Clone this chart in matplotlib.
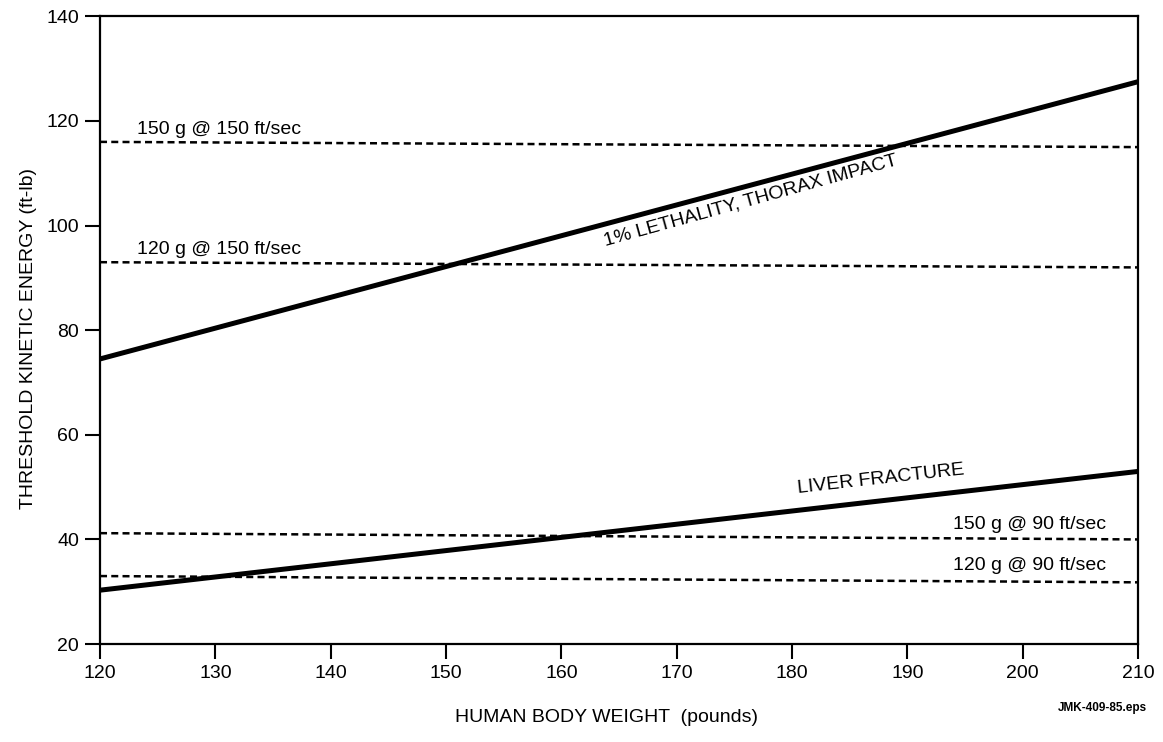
import matplotlib
matplotlib.use("Agg")
import matplotlib.pyplot as plt

plt.rcParams['font.family'] = ['Liberation Sans', 'DejaVu Sans']

# body weight (pounds) at the two ends of each line
weight = [120, 210]

# threshold kinetic energy (ft-lb)
lethality_thorax = [74.5, 127.5]
liver_fracture = [30.3, 53.0]

# projectile energies (at both ends)
ke_150g_150fps = [116.0, 115.0]
ke_120g_150fps = [93.0, 92.0]
ke_150g_90fps = [41.2, 40.0]
ke_120g_90fps = [33.0, 31.8]

x_ticks = [120, 130, 140, 150, 160, 170, 180, 190, 200, 210]
y_ticks = [20, 40, 60, 80, 100, 120, 140]

fig = plt.figure(figsize=(11.63, 7.42), dpi=100)
ax = fig.add_axes([0.086, 0.132, 0.8925, 0.846])

# dashed energy levels
dash = dict(color='black', linewidth=1.8, linestyle=(0, (2.8, 1.7)))
ax.plot(weight, ke_150g_150fps, **dash)
ax.plot(weight, ke_120g_150fps, **dash)
ax.plot(weight, ke_150g_90fps, **dash)
x = ax.plot(weight, ke_120g_90fps, **dash)

# threshold curves
ax.plot(weight, lethality_thorax, color='black', linewidth=3.6, solid_capstyle='butt')
ax.plot(weight, liver_fracture, color='black', linewidth=3.6, solid_capstyle='butt')

# labels on the lines
fs = 14
ax.text(123.2, 117.6, "150 g @ 150 ft/sec", fontsize=fs, ha='left', va='baseline')
ax.text(123.2, 94.5, "120 g @ 150 ft/sec", fontsize=fs, ha='left', va='baseline')
ax.text(207.2, 41.9, "150 g @ 90 ft/sec", fontsize=fs, ha='right', va='baseline')
ax.text(207.2, 34.1, "120 g @ 90 ft/sec", fontsize=fs, ha='right', va='baseline')
ax.text(176.4, 104.8, "1% LETHALITY, THORAX IMPACT", fontsize=fs,
        ha='center', va='center', rotation=15.5)
ax.text(187.7, 51.6, "LIVER FRACTURE", fontsize=fs,
        ha='center', va='center', rotation=6.4)

ax.set_xlim(120, 210)
ax.set_ylim(20, 140)
ax.set_xticks(x_ticks)
ax.set_yticks(y_ticks)
ax.tick_params(direction='out', length=11, width=1.5, labelsize=14, pad=4)
for s in ax.spines.values():
    s.set_linewidth(1.6)

ax.set_xlabel("HUMAN BODY WEIGHT  (pounds)", fontsize=14)
ax.set_ylabel("THRESHOLD KINETIC ENERGY (ft-lb)", fontsize=14)
ax.xaxis.set_label_coords(0.488, -0.103)
ax.yaxis.set_label_coords(-0.061, 0.486)

fig.text(0.986, 0.046, "JMK-409-85.eps", fontsize=8.5, ha='right', va='center',
         fontweight='bold')

fig.savefig("out.png", dpi=100)
